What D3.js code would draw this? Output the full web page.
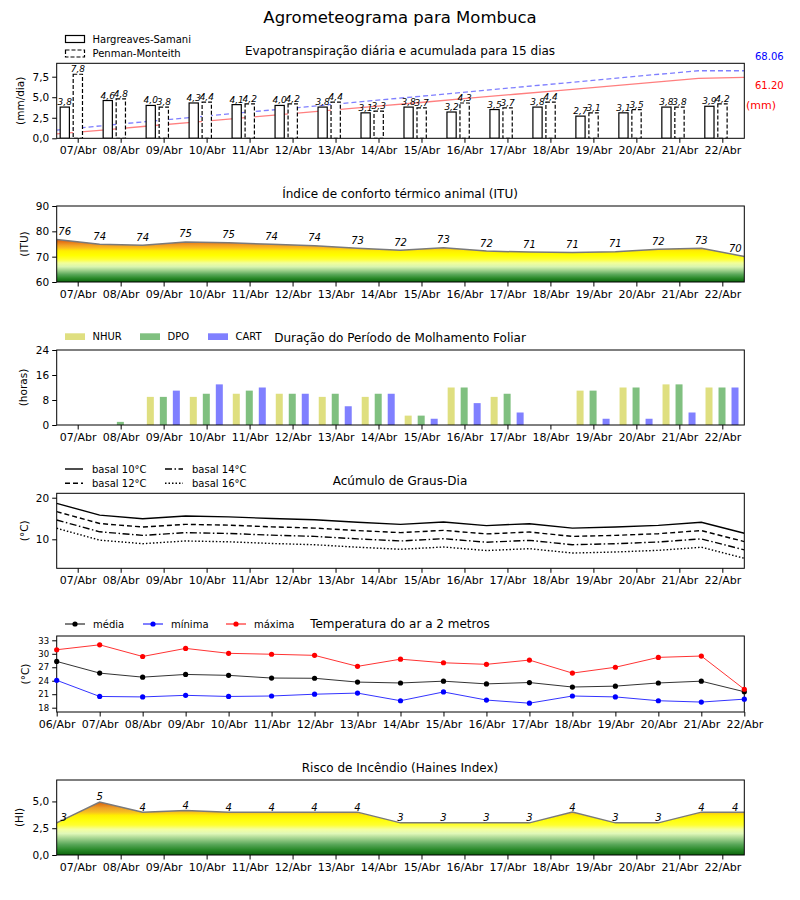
<!DOCTYPE html>
<html>
<head>
<meta charset="utf-8">
<script src="https://cdn.jsdelivr.net/npm/d3@7"></script>
<style>
body { margin: 0; background: #fff; }
svg text { font-family: "DejaVu Sans", sans-serif; fill: #000; }
</style>
</head>
<body>
<script>
// dias de previsao (barras) e limites dos dias (series de 17 pontos)
var days = ["07/Abr","08/Abr","09/Abr","10/Abr","11/Abr","12/Abr","13/Abr","14/Abr",
            "15/Abr","16/Abr","17/Abr","18/Abr","19/Abr","20/Abr","21/Abr","22/Abr"];
var days17 = ["06/Abr"].concat(days);

// evapotranspiracao diaria (mm/dia)
var etHS = [3.8, 4.6, 4.0, 4.3, 4.1, 4.0, 3.8, 3.1, 3.8, 3.2, 3.5, 3.8, 2.7, 3.1, 3.8, 3.9];
var etPM = [7.8, 4.8, 3.8, 4.4, 4.2, 4.2, 4.4, 3.3, 3.7, 4.3, 3.7, 4.4, 3.1, 3.5, 3.8, 4.2];
// acumulada (mm), eixo secundario
var accHS = [2.3, 6.4, 10.6, 14.7, 18.8, 23.0, 27.1, 31.2, 35.3, 39.5, 43.6, 47.7, 51.9, 56.0, 60.2, 61.2];
var accPM = [6.4, 10.9, 15.4, 19.8, 24.2, 28.6, 33.0, 37.4, 41.8, 46.2, 50.6, 55.0, 59.4, 63.8, 68.06, 68.06];

// ITU
var itu = [76.8, 74.9, 74.5, 75.8, 75.5, 74.9, 74.3, 73.3, 72.5, 73.5, 72.2, 71.8, 71.6, 71.9, 72.9, 73.3, 70.1];

// molhamento foliar (horas)
var nhur = [0, 0, 9, 9, 10, 10, 9, 9, 3, 12, 9, 0, 11, 12, 13, 12];
var dpo  = [0, 1, 9, 10, 11, 10, 10, 10, 3, 12, 10, 0, 11, 12, 13, 12];
var cart = [0, 0, 11, 13, 12, 10, 6, 10, 2, 7, 4, 0, 2, 2, 4, 12];

// graus-dia
var gd10 = [18.65, 15.8, 14.95, 15.6, 15.4, 15.0, 14.7, 14.1, 13.6, 14.15, 13.3, 13.75, 12.7, 12.95, 13.35, 14.1, 11.45];
var gd12 = [16.65, 13.8, 12.95, 13.6, 13.4, 13.0, 12.7, 12.1, 11.6, 12.15, 11.3, 11.75, 10.7, 10.95, 11.35, 12.1, 9.45];
var gd14 = [14.65, 11.8, 10.95, 11.6, 11.4, 11.0, 10.7, 10.1, 9.6, 10.15, 9.3, 9.75, 8.7, 8.95, 9.35, 10.1, 7.45];
var gd16 = [12.65, 9.8, 8.95, 9.6, 9.4, 9.0, 8.7, 8.1, 7.6, 8.15, 7.3, 7.75, 6.7, 6.95, 7.35, 8.1, 5.45];

// temperatura a 2 m
var tMed = [28.3, 25.7, 24.8, 25.4, 25.2, 24.6, 24.55, 23.7, 23.5, 23.9, 23.3, 23.6, 22.6, 22.8, 23.5, 23.9, 21.55];
var tMin = [24.1, 20.5, 20.4, 20.75, 20.5, 20.6, 21.0, 21.25, 19.55, 21.5, 19.7, 19.0, 20.6, 20.4, 19.55, 19.25, 19.9];
var tMax = [30.9, 32.0, 29.4, 31.2, 30.1, 29.9, 29.65, 27.2, 28.8, 28.0, 27.65, 28.6, 25.7, 27.0, 29.2, 29.5, 22.1];

// Haines
var haines = [3, 4.95, 4, 4.15, 4, 4, 4, 4, 3, 3, 3, 3, 4, 3, 3, 4, 4];

var L = 56.7, R = 744.3;
var comma = function(d) { return d3.format(".1f")(d).replace(".", ","); };

var svg = d3.select("body").append("svg")
    .attr("width", 800)
    .attr("height", 900);
var defs = svg.append("defs");

svg.append("text")
    .attr("x", 400).attr("y", 23)
    .attr("text-anchor", "middle")
    .style("font-size", "16.5px")
    .text("Agrometeograma para Mombuca");

var xb = d3.scaleBand().domain(days).range([L, R]);
var xi = d3.scaleLinear().domain([0, 16]).range([L, R]);
var xp = d3.scalePoint().domain(days17).range([L, R]);
function cx(d) { return xb(d) + xb.bandwidth() / 2; }

// moldura, eixos, titulo
function panel(top, bottom, y, yticks, yfmt, ylab, labX, title, xaxis, ysize) {
  var g = svg.append("g");
  g.append("g")
      .attr("transform", "translate(0," + bottom + ")")
      .call(xaxis.tickSize(4.5).tickPadding(3.5))
      .call(function(a) { a.select(".domain").remove(); })
      .selectAll("text").style("font-size", "11px");
  g.append("g")
      .attr("transform", "translate(" + L + ",0)")
      .call(d3.axisLeft(y).tickValues(yticks).tickFormat(yfmt).tickSize(4.5).tickPadding(3))
      .call(function(a) { a.select(".domain").remove(); })
      .selectAll("text").style("font-size", (ysize || 10.5) + "px");
  g.append("text")
      .attr("transform", "translate(" + labX + "," + (top + bottom) / 2 + ") rotate(-90)")
      .attr("text-anchor", "middle")
      .attr("dy", "0.35em")
      .style("font-size", "10.5px")
      .text(ylab);
  g.append("text")
      .attr("x", 400).attr("y", top - 8)
      .attr("text-anchor", "middle")
      .style("font-size", "12px")
      .text(title);
  var id = "clip" + Math.round(top);
  defs.append("clipPath").attr("id", id)
      .append("rect").attr("x", L).attr("y", top).attr("width", R - L).attr("height", bottom - top);
  var plot = g.append("g").attr("clip-path", "url(#" + id + ")");
  g.append("rect")
      .attr("x", L).attr("y", top).attr("width", R - L).attr("height", bottom - top)
      .attr("fill", "none").attr("stroke", "#000").attr("stroke-width", 1);
  return { g: g, plot: plot };
}

function gradient(id, y, stops) {
  var lg = defs.append("linearGradient").attr("id", id)
      .attr("gradientUnits", "userSpaceOnUse")
      .attr("x1", 0).attr("x2", 0)
      .attr("y1", y(stops[0][0])).attr("y2", y(stops[stops.length - 1][0]));
  var v0 = stops[0][0], v1 = stops[stops.length - 1][0];
  stops.forEach(function(s) {
    lg.append("stop").attr("offset", (s[0] - v0) / (v1 - v0)).attr("stop-color", s[1]);
  });
}

// ---------- 1. Evapotranspiracao ----------
var y1 = d3.scaleLinear().domain([0, 9.13]).range([138.3, 63.3]);
var y1b = d3.scaleLinear().domain([-2.2, 75.8]).range([138.3, 63.3]);
var p1 = panel(63.3, 138.3, y1, [0, 2.5, 5, 7.5], comma, "(mm/dia)", 20,
    "Evapotranspiração diária e acumulada para 15 dias", d3.axisBottom(xb));

var xacc = d3.scaleLinear().domain([0, 15]).range([L, R]);
p1.plot.append("path").datum(accHS)
    .attr("fill", "none").attr("stroke", "#ff7f7f").attr("stroke-width", 1.3)
    .attr("d", d3.line().x(function(d, i) { return xacc(i); }).y(function(d) { return y1b(d); }));
p1.plot.append("path").datum(accPM)
    .attr("fill", "none").attr("stroke", "#7f7fff").attr("stroke-width", 1.3)
    .attr("stroke-dasharray", "5,3")
    .attr("d", d3.line().x(function(d, i) { return xacc(i); }).y(function(d) { return y1b(d); }));

p1.plot.selectAll("rect.hs").data(etHS).enter().append("rect")
    .attr("class", "hs")
    .attr("x", function(d, i) { return cx(days[i]) - 18; })
    .attr("width", 9.2)
    .attr("y", function(d) { return y1(d); })
    .attr("height", function(d) { return y1(0) - y1(d); })
    .attr("fill", "#fff").attr("stroke", "#000").attr("stroke-width", 1.2);
p1.plot.selectAll("rect.pm").data(etPM).enter().append("rect")
    .attr("class", "pm")
    .attr("x", function(d, i) { return cx(days[i]) - 5; })
    .attr("width", 9.3)
    .attr("y", function(d) { return y1(d); })
    .attr("height", function(d) { return y1(0) - y1(d); })
    .attr("fill", "#fff").attr("stroke", "#000").attr("stroke-width", 1.2)
    .attr("stroke-dasharray", "4,2");
p1.g.selectAll("text.hsl").data(etHS).enter().append("text")
    .attr("class", "hsl")
    .attr("x", function(d, i) { return cx(days[i]) - 13.4; })
    .attr("y", function(d) { return y1(d) - 2; })
    .attr("text-anchor", "middle")
    .style("font-size", "9px").style("font-style", "italic")
    .text(comma);
p1.g.selectAll("text.pml").data(etPM).enter().append("text")
    .attr("class", "pml")
    .attr("x", function(d, i) { return cx(days[i]) - 0.3; })
    .attr("y", function(d) { return y1(d) - 2; })
    .attr("text-anchor", "middle")
    .style("font-size", "9px").style("font-style", "italic")
    .text(comma);

svg.append("text").attr("x", 755).attr("y", 60).style("font-size", "10px")
    .style("fill", "#0000ff").text(d3.format(".2f")(accPM[accPM.length - 1]));
svg.append("text").attr("x", 755).attr("y", 89).style("font-size", "10px")
    .style("fill", "#ff0000").text(d3.format(".2f")(accHS[accHS.length - 1]));
svg.append("text").attr("x", 746).attr("y", 109).style("font-size", "11px")
    .style("fill", "#ff0000").text("(mm)");

var leg1 = svg.append("g");
leg1.append("rect").attr("x", 65.5).attr("y", 35.5).attr("width", 19).attr("height", 7)
    .attr("fill", "#fff").attr("stroke", "#000").attr("stroke-width", 1.2);
leg1.append("rect").attr("x", 65.5).attr("y", 50).attr("width", 19).attr("height", 7)
    .attr("fill", "#fff").attr("stroke", "#000").attr("stroke-width", 1.2).attr("stroke-dasharray", "4,2");
leg1.append("text").attr("x", 92.5).attr("y", 42.5).style("font-size", "10px").text("Hargreaves-Samani");
leg1.append("text").attr("x", 92.5).attr("y", 57).style("font-size", "10px").text("Penman-Monteith");

// ---------- 2. ITU ----------
var y2 = d3.scaleLinear().domain([60, 90]).range([282, 206]);
var p2 = panel(206, 282, y2, [60, 70, 80, 90], d3.format("d"), "(ITU)", 24,
    "Índice de conforto térmico animal (ITU)", d3.axisBottom(xb));
gradient("gradItu", y2, [
  [60, "#0b640b"], [61.5, "#2a8a2a"], [63, "#5aa85a"], [64.5, "#9ccf8a"],
  [66, "#d8f5b0"], [67.5, "#f2ff9a"], [69, "#ffff30"], [70.5, "#ffff00"],
  [72.3, "#ffee00"], [73.3, "#fcc21c"], [74.5, "#f2a023"], [75.5, "#e8801a"],
  [76.5, "#dc6010"], [78, "#d04a00"]
]);
p2.plot.append("path").datum(itu)
    .attr("fill", "url(#gradItu)")
    .attr("d", d3.area().x(function(d, i) { return xi(i); }).y0(y2(60)).y1(function(d) { return y2(d); }));
p2.plot.append("path").datum(itu)
    .attr("fill", "none").attr("stroke", "#7a7a7a").attr("stroke-width", 1.5)
    .attr("d", d3.line().x(function(d, i) { return xi(i); }).y(function(d) { return y2(d); }));
p2.g.selectAll("text.itul").data(itu).enter().append("text")
    .attr("class", "itul")
    .attr("x", function(d, i) { return xi(i) + (i === 0 ? 8 : i === 16 ? -9 : 0); })
    .attr("y", function(d) { return y2(d) - 4.5; })
    .attr("text-anchor", "middle")
    .style("font-size", "10px").style("font-style", "italic")
    .text(function(d) { return Math.floor(d); });

// ---------- 3. Molhamento foliar ----------
var y3 = d3.scaleLinear().domain([0, 24]).range([425, 350]);
var p3 = panel(350, 425, y3, [0, 8, 16, 24], d3.format("d"), "(horas)", 23,
    "Duração do Período de Molhamento Foliar", d3.axisBottom(xb));
var wetSeries = [
  { name: "NHUR", vals: nhur, color: "#dfdf80", off: -17.3 },
  { name: "DPO",  vals: dpo,  color: "#80c080", off: -4.3 },
  { name: "CART", vals: cart, color: "#8080ff", off: 8.7 }
];
wetSeries.forEach(function(s) {
  p3.plot.selectAll("rect." + s.name).data(s.vals).enter().append("rect")
      .attr("class", s.name)
      .attr("x", function(d, i) { return cx(days[i]) + s.off; })
      .attr("width", 7)
      .attr("y", function(d) { return y3(d); })
      .attr("height", function(d) { return y3(0) - y3(d); })
      .attr("fill", s.color);
});
var leg3x = [65, 140, 208];
wetSeries.forEach(function(s, k) {
  svg.append("rect").attr("x", leg3x[k]).attr("y", 333.3).attr("width", 20).attr("height", 6.7)
      .attr("fill", s.color);
  svg.append("text").attr("x", leg3x[k] + 27.5).attr("y", 340).style("font-size", "10px").text(s.name);
});

// ---------- 4. Graus-dia ----------
var y4 = d3.scaleLinear().domain([3.03, 21.06]).range([568.3, 493.3]);
var p4 = panel(493.3, 568.3, y4, [10, 20], d3.format("d"), "(°C)", 24,
    "Acúmulo de Graus-Dia", d3.axisBottom(xb));
var gdSeries = [
  { name: "basal 10°C", vals: gd10, dash: null },
  { name: "basal 12°C", vals: gd12, dash: "5,3" },
  { name: "basal 14°C", vals: gd14, dash: "7,2.5,1.5,2.5" },
  { name: "basal 16°C", vals: gd16, dash: "1.5,2" }
];
gdSeries.forEach(function(s) {
  p4.plot.append("path").datum(s.vals)
      .attr("fill", "none").attr("stroke", "#000").attr("stroke-width", 1.4)
      .attr("stroke-dasharray", s.dash)
      .attr("d", d3.line().x(function(d, i) { return xi(i); }).y(function(d) { return y4(d); }));
});
var leg4 = [[65, 469], [65, 483.3], [165, 469], [165, 483.3]];
gdSeries.forEach(function(s, k) {
  svg.append("line").attr("x1", leg4[k][0]).attr("x2", leg4[k][0] + 18)
      .attr("y1", leg4[k][1]).attr("y2", leg4[k][1])
      .attr("stroke", "#000").attr("stroke-width", 1.4).attr("stroke-dasharray", s.dash);
  svg.append("text").attr("x", leg4[k][0] + 27).attr("y", leg4[k][1] + 3.5)
      .style("font-size", "10px").text(s.name);
});

// ---------- 5. Temperatura ----------
var y5 = d3.scaleLinear().domain([17.04, 33.96]).range([712, 636]);
var p5 = panel(636, 712, y5, [18, 21, 24, 27, 30, 33], d3.format("d"), "(°C)", 25,
    "Temperatura do ar a 2 metros", d3.axisBottom(xp), 8.5);
var tSeries = [
  { name: "média", vals: tMed, color: "#000" },
  { name: "mínima", vals: tMin, color: "#0000ff" },
  { name: "máxima", vals: tMax, color: "#ff0000" }
];
tSeries.forEach(function(s) {
  svg.append("path").datum(s.vals)
      .attr("fill", "none").attr("stroke", s.color).attr("stroke-opacity", 0.8).attr("stroke-width", 1)
      .attr("d", d3.line().x(function(d, i) { return xp(days17[i]); }).y(function(d) { return y5(d); }));
  svg.selectAll("circle.t" + s.name).data(s.vals).enter().append("circle")
      .attr("class", "t" + s.name)
      .attr("cx", function(d, i) { return xp(days17[i]); })
      .attr("cy", function(d) { return y5(d); })
      .attr("r", 2.6)
      .attr("fill", s.color);
});
var leg5x = [65, 143, 226];
tSeries.forEach(function(s, k) {
  svg.append("line").attr("x1", leg5x[k]).attr("x2", leg5x[k] + 20)
      .attr("y1", 624).attr("y2", 624).attr("stroke", s.color).attr("stroke-width", 1);
  svg.append("circle").attr("cx", leg5x[k] + 10).attr("cy", 624).attr("r", 2.6).attr("fill", s.color);
  svg.append("text").attr("x", leg5x[k] + 28).attr("y", 627.5).style("font-size", "10px").text(s.name);
});

// ---------- 6. Haines ----------
var y6 = d3.scaleLinear().domain([0, 7]).range([855, 780]);
var p6 = panel(780, 855, y6, [0, 2.5, 5], comma, "(HI)", 19,
    "Risco de Incêndio (Haines Index)", d3.axisBottom(xb));
gradient("gradHaines", y6, [
  [0, "#0b640b"], [0.5, "#2a8a2a"], [1.0, "#5aa85a"], [1.5, "#9ccf8a"],
  [2.0, "#e0f8b8"], [2.4, "#f4ffa0"], [2.8, "#ffff30"], [3.2, "#ffff10"],
  [3.7, "#ffee00"], [4.0, "#f8c020"], [4.4, "#eca028"], [4.7, "#e27a18"], [5.0, "#d85a08"]
]);
p6.plot.append("path").datum(haines)
    .attr("fill", "url(#gradHaines)")
    .attr("d", d3.area().x(function(d, i) { return xi(i); }).y0(y6(0)).y1(function(d) { return y6(d); }));
p6.plot.append("path").datum(haines)
    .attr("fill", "none").attr("stroke", "#7a7a7a").attr("stroke-width", 1.5)
    .attr("d", d3.line().x(function(d, i) { return xi(i); }).y(function(d) { return y6(d); }));
p6.g.selectAll("text.hl").data(haines).enter().append("text")
    .attr("class", "hl")
    .attr("x", function(d, i) { return xi(i) + (i === 0 ? 7 : i === 16 ? -9 : 0); })
    .attr("y", function(d) { return y6(d) - 1.5; })
    .attr("text-anchor", "middle")
    .style("font-size", "10px").style("font-style", "italic")
    .text(function(d) { return Math.round(d); });
</script>
</body>
</html>
